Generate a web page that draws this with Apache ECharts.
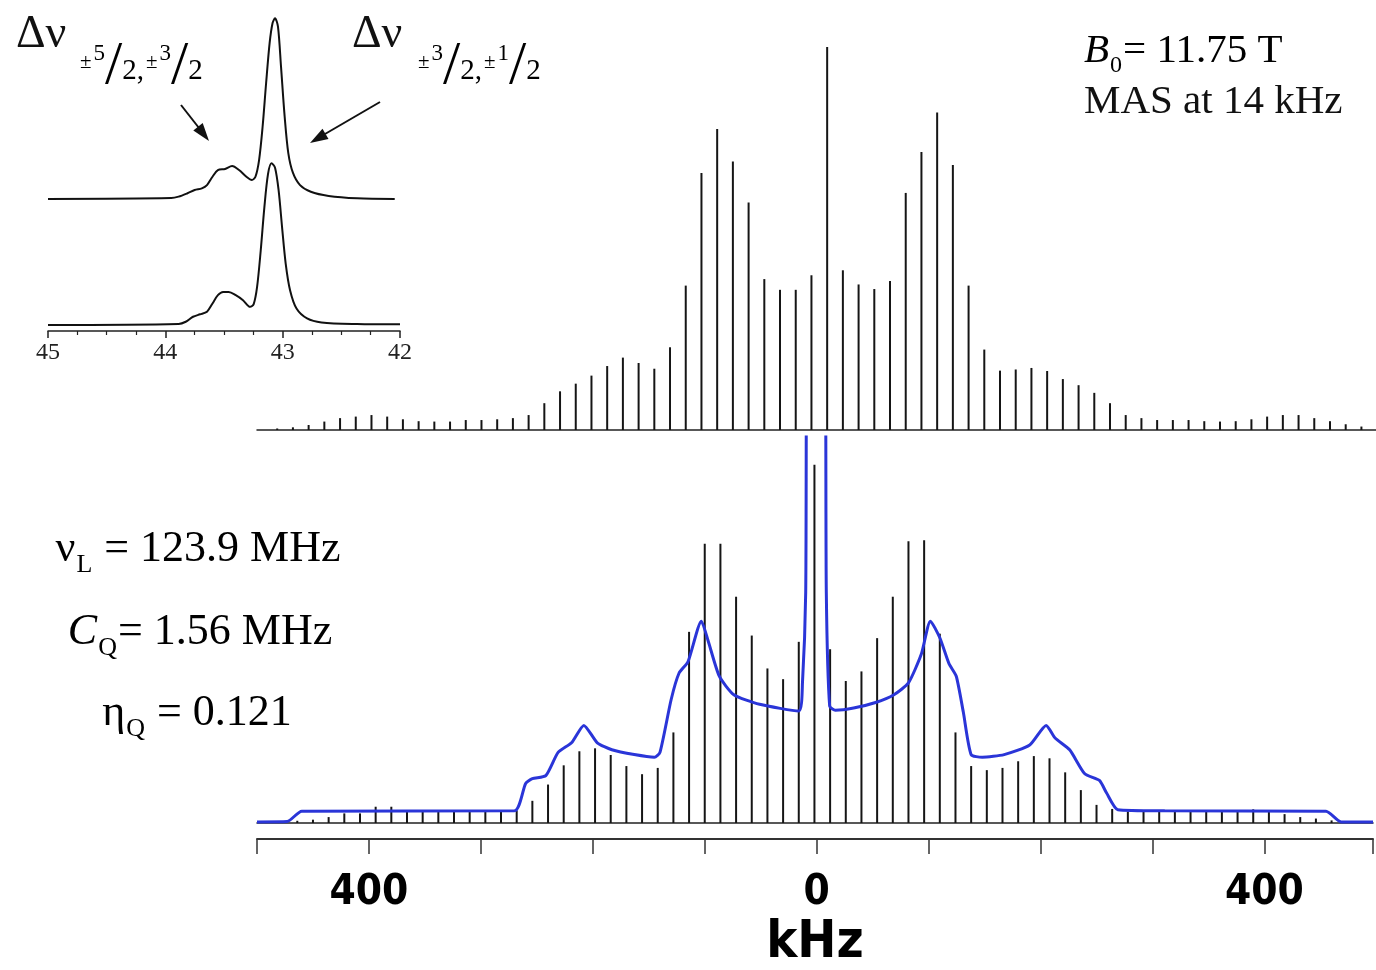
<!DOCTYPE html>
<html>
<head>
<meta charset="utf-8">
<title>MAS NMR spectrum</title>
<script src="https://cdn.jsdelivr.net/npm/echarts@6/dist/echarts.min.js"></script>
<style>
  html, body { margin: 0; padding: 0; background: #fff; }
  #main { width: 1376px; height: 970px; }
</style>
</head>
<body>
<div id="main"></div>
<script>
// spinning sidebands, MAS at 14 kHz
const spinRate = 14
const sidebandOrder = [
  -35, -34, -33, -32, -31, -30, -29, -28, -27, -26, -25, -24, -23, -22, -21, -20, -19, -18,
  -17, -16, -15, -14, -13, -12, -11, -10, -9, -8, -7, -6, -5, -4, -3, -2, -1,
  0,
  1, 2, 3, 4, 5, 6, 7, 8, 9, 10, 11, 12, 13, 14, 15, 16, 17, 18, 19, 20, 21, 22, 23, 24, 25,
  26, 27, 28, 29, 30, 31, 32, 33, 34, 35
]
const expCenter = 8   // kHz, centreband of the measured spectrum
const simCenter = -2  // kHz, centreband of the simulation

// measured spectrum (top), relative intensity
const expIntensity = [
  0.4, 0.7, 1.3, 2.2, 3.1, 3.5, 3.9, 3.5, 2.8, 2.3, 2.2, 2.2, 2.6, 2.6, 2.8, 3.1, 3.9, 7.0,
  10.1, 12.1, 14.2, 16.7, 18.9, 17.5, 16.0, 21.6, 37.7, 67.1, 78.6, 70.1, 59.4, 39.4, 36.6, 36.6, 40.4,
  100,
  41.7, 38.0, 36.8, 38.9, 61.9, 72.6, 82.9, 69.2, 37.7, 21.0, 15.5, 15.8, 16.2, 15.4, 13.3, 11.7, 9.7,
  7.0, 3.9, 3.1, 2.6, 2.6, 2.6, 2.3, 2.2, 2.3, 2.8, 3.5, 3.9, 3.9, 3.1, 2.3, 1.5, 0.9, 0.4
]
// simulated sidebands (bottom)
const simIntensity = [
  0.2, 0.4, 0.6, 0.9, 1.6, 2.6, 2.6, 4.4, 4.4, 3.1, 3.1, 3.0, 3.0, 3.0, 3.0, 3.0, 3.4, 6.0,
  10.4, 15.6, 19.4, 20.2, 18.4, 15.4, 13.2, 14.9, 24.5, 51.7, 75.5, 75.5, 61.2, 50.7, 41.8, 38.9, 49.0,
  96.9,
  47.0, 38.4, 41.0, 50.0, 61.2, 76.2, 76.5, 51.2, 24.5, 15.4, 14.3, 14.9, 16.7, 18.1, 17.5, 13.7, 8.9,
  4.9, 3.8, 3.1, 3.1, 3.1, 3.1, 3.1, 3.1, 3.1, 3.3, 3.7, 3.5, 2.4, 1.6, 1.2, 0.7, 0.4, 0.2
]
// static line shape (blue), goes off scale at the centre
const fitFreq = [
  -500, -473, -460, -270, -260, -254, -242, -231, -219, -208, -196, -183, -163, -145, -140,
  -130, -123, -115, -103, -97, -87, -74, -51, -16, -12.7, -9.8, -8, 7, 8.6, 11.6, 16.7, 33,
  52.6, 69, 82, 93.5, 101.6, 110, 118.2, 124.7, 131, 138, 148, 167.5, 190.3, 205, 213, 226,
  239.5, 252.6, 259, 269, 311, 455, 468.5, 497
]
const fitIntensity = [
  0.3, 0.4, 3.2, 3.3, 10.7, 12.0, 12.8, 19.1, 21.7, 26.4, 21.7, 19.8, 18.5, 17.8, 19.1,
  33.4, 40.5, 43.6, 54.6, 49.3, 39.7, 34.7, 32.1, 30.3, 37.9, 62.4, 140, 140, 62.4, 31.6, 30.5, 31.1,
  32.6, 34.7, 37.9, 45.7, 54.6, 50.1, 43.1, 39.7, 30.0, 18.5, 17.8, 18.5, 21.1, 26.4, 23.0, 19.8,
  13.3, 11.5, 8.1, 3.6, 3.3, 3.2, 0.3, 0.3
]

// inset: centreband region, measured (top) and simulated (bottom)
const insetFreqTop = [
  45.0, 43.95, 43.887, 43.811, 43.75, 43.689, 43.645, 43.598, 43.552, 43.491, 43.431, 43.372,
  43.309, 43.263, 43.232, 43.201, 43.171, 43.141, 43.111, 43.086, 43.065, 43.04, 43.014, 42.983,
  42.952, 42.912, 42.852, 42.76, 42.608, 42.366, 42.045
]
const insetTop = [
  0, 0.5, 1.3, 3.2, 5.0, 5.9, 7.7, 12.3, 16.0, 16.6, 18.2, 16.0,
  12.3, 10.5, 12.3, 21.5, 39.9, 64.1, 86.2, 97.2, 99.8, 95.2, 73.1, 45.5,
  25.4, 14.4, 7.7, 4.0, 1.7, 0.4, 0
]
const insetFreqBottom = [
  45.0, 43.887, 43.826, 43.764, 43.704, 43.645, 43.598, 43.552, 43.508, 43.46, 43.4, 43.338,
  43.278, 43.247, 43.218, 43.187, 43.156, 43.125, 43.095, 43.065, 43.034, 43.005, 42.974,
  42.937, 42.882, 42.792, 42.669, 42.366, 42.0
]
const insetBottom = [
  0, 0.6, 2.0, 5.1, 6.6, 8.2, 13.3, 18.4, 20.4, 20.4, 18.4, 15.3,
  11.2, 12.9, 23.5, 46.0, 72.6, 93.1, 99.8, 97.1, 82.8, 60.3, 37.8,
  21.5, 10.2, 4.1, 1.6, 0.6, 0.4
]

const labelledTicks = [-400, 0, 400]

const serif = '"Liberation Serif", "Times New Roman", serif'
const boldSans = '"DejaVu Sans Condensed", "Liberation Sans Narrow", "DejaVu Sans", sans-serif'

function sticks(center, values) {
  return sidebandOrder.map((n, i) => [center + n * spinRate, values[i]])
}
function pairs(xs, ys) {
  return xs.map((x, i) => [x, ys[i]])
}
function stickItem(params, api) {
  const p0 = api.coord([api.value(0), 0])
  const p1 = api.coord([api.value(0), api.value(1)])
  return {
    type: 'line',
    shape: { x1: p0[0], y1: p0[1], x2: p1[0], y2: p1[1] },
    style: { stroke: '#151515', lineWidth: 2 }
  }
}

// rich styles for the slashed fractions like ±5/2
const fracRich = {
  pm: { fontFamily: serif, fontSize: 21, lineHeight: 21, padding: [16, 0, 0, 0], verticalAlign: 'top', color: '#111' },
  num: { fontFamily: serif, fontSize: 23, lineHeight: 23, padding: [6, 0, 0, 2], verticalAlign: 'top', color: '#111' },
  sl: { fontFamily: serif, fontSize: 62, lineHeight: 50, verticalAlign: 'top', color: '#333' },
  den: { fontFamily: serif, fontSize: 29, lineHeight: 29, verticalAlign: 'bottom', color: '#111' },
  cm: { fontFamily: serif, fontSize: 29, lineHeight: 29, padding: [0, 2, 0, 0], verticalAlign: 'bottom', color: '#111' }
}
// rich styles for symbol + subscript
function subRich(size, subSize, drop) {
  return {
    m: { fontFamily: serif, fontSize: size, lineHeight: size + 4, verticalAlign: 'top', color: '#111' },
    i: { fontFamily: serif, fontStyle: 'italic', fontSize: size, lineHeight: size + 4, verticalAlign: 'top', color: '#111' },
    s: { fontFamily: serif, fontSize: subSize, lineHeight: subSize, padding: [drop, 1, 0, 1], verticalAlign: 'top', color: '#111' }
  }
}

const chart = echarts.init(document.getElementById('main'))

chart.setOption({
  animation: false,
  backgroundColor: '#fff',
  grid: [
    { left: 257, right: 0, top: 47, height: 383 },
    { left: 257, right: 0, top: 437, height: 400 },
    { left: 48, width: 352, top: 18, height: 181 },
    { left: 48, width: 352, top: 163, height: 162 }
  ],
  xAxis: [
    {
      gridIndex: 0, type: 'value', min: -500, max: 497,
      axisLine: { lineStyle: { color: '#222', width: 1.5 } },
      axisTick: { show: false }, axisLabel: { show: false }, splitLine: { show: false }
    },
    {
      gridIndex: 1, type: 'value', min: -500, max: 497,
      axisLine: { lineStyle: { color: '#222', width: 1.5 } },
      axisTick: { show: false }, axisLabel: { show: false }, splitLine: { show: false }
    },
    {
      gridIndex: 1, type: 'value', min: -500, max: 497, interval: 100,
      position: 'bottom', offset: 16,
      axisLine: { onZero: false, lineStyle: { color: '#333', width: 2 } },
      axisTick: { length: 15, lineStyle: { color: '#333', width: 1.5 } },
      axisLabel: {
        margin: 33,
        fontFamily: boldSans, fontWeight: 'bold', fontSize: 42, color: '#000',
        formatter: v => labelledTicks.includes(v) ? String(Math.abs(v)) : ''
      },
      splitLine: { show: false },
      name: 'kHz', nameLocation: 'middle', nameGap: 78,
      nameTextStyle: { fontFamily: boldSans, fontWeight: 'bold', fontSize: 52, color: '#000' }
    },
    {
      gridIndex: 2, type: 'value', min: 42, max: 45, inverse: true, show: false
    },
    {
      gridIndex: 3, type: 'value', min: 42, max: 45, interval: 1, inverse: true,
      offset: 6,
      axisLine: { onZero: false, lineStyle: { color: '#222', width: 1.5 } },
      axisTick: { length: 7, lineStyle: { color: '#222', width: 1.5 } },
      minorTick: { show: true, splitNumber: 4, length: 4, lineStyle: { color: '#222', width: 1.2 } },
      axisLabel: { margin: 10, fontFamily: serif, fontSize: 24, color: '#222' },
      splitLine: { show: false }
    }
  ],
  yAxis: [
    { gridIndex: 0, type: 'value', min: 0, max: 100, show: false },
    { gridIndex: 1, type: 'value', min: 0, max: 104.4, show: false },
    { gridIndex: 2, type: 'value', min: 0, max: 100, show: false },
    { gridIndex: 3, type: 'value', min: 0, max: 100, show: false }
  ],
  series: [
    {
      name: 'experiment', type: 'custom', xAxisIndex: 0, yAxisIndex: 0,
      encode: { x: 0, y: 1 },
      renderItem: stickItem,
      data: sticks(expCenter, expIntensity)
    },
    {
      name: 'simulation', type: 'custom', xAxisIndex: 1, yAxisIndex: 1,
      encode: { x: 0, y: 1 },
      renderItem: stickItem,
      data: sticks(simCenter, simIntensity)
    },
    {
      name: 'static', type: 'line', xAxisIndex: 1, yAxisIndex: 1,
      showSymbol: false, smooth: 0.2, clip: true,
      lineStyle: { color: '#2a35d8', width: 3 },
      data: pairs(fitFreq, fitIntensity),
      z: 5
    },
    {
      name: 'inset experiment', type: 'line', xAxisIndex: 3, yAxisIndex: 2,
      showSymbol: false, smooth: 0.3,
      lineStyle: { color: '#111', width: 2 },
      data: pairs(insetFreqTop, insetTop)
    },
    {
      name: 'inset simulation', type: 'line', xAxisIndex: 4, yAxisIndex: 3,
      showSymbol: false, smooth: 0.3,
      lineStyle: { color: '#111', width: 2 },
      data: pairs(insetFreqBottom, insetBottom)
    }
  ],
  graphic: [
    // transition labels
    { type: 'text', x: 16, y: 12, style: { text: 'Δν', font: '46px ' + serif, fill: '#111' } },
    {
      type: 'text', x: 80, y: 36,
      style: { text: '{pm|±}{num|5}{sl|/}{den|2}{cm|,}{pm|±}{num|3}{sl|/}{den|2}', rich: fracRich }
    },
    { type: 'text', x: 352, y: 12, style: { text: 'Δν', font: '46px ' + serif, fill: '#111' } },
    {
      type: 'text', x: 418, y: 36,
      style: { text: '{pm|±}{num|3}{sl|/}{den|2}{cm|,}{pm|±}{num|1}{sl|/}{den|2}', rich: fracRich }
    },
    // arrows
    { type: 'line', shape: { x1: 181, y1: 105, x2: 199, y2: 128 }, style: { stroke: '#111', lineWidth: 2 } },
    { type: 'polygon', shape: { points: [[209, 141], [193.3, 130.5], [202.7, 123.1]] }, style: { fill: '#111' } },
    { type: 'line', shape: { x1: 380, y1: 102, x2: 325, y2: 134 }, style: { stroke: '#111', lineWidth: 2 } },
    { type: 'polygon', shape: { points: [[310, 143], [322.5, 128.7], [328.5, 139.1]] }, style: { fill: '#111' } },
    // acquisition parameters
    {
      type: 'text', x: 1084, y: 31,
      style: { text: '{i|B}{s|0}{m|= 11.75 T}', rich: subRich(41, 24, 23) }
    },
    { type: 'text', x: 1084, y: 82, style: { text: 'MAS at 14 kHz', font: '41px ' + serif, fill: '#111' } },
    // fit parameters
    {
      type: 'text', x: 198, y: 527,
      style: { text: '{m|ν}{s|L}{m| = 123.9 MHz}', rich: subRich(44, 26, 25), align: 'center' }
    },
    {
      type: 'text', x: 200, y: 610,
      style: { text: '{i|C}{s|Q}{m|= 1.56 MHz}', rich: subRich(44, 26, 25), align: 'center' }
    },
    {
      type: 'text', x: 197, y: 691,
      style: { text: '{m|η}{s|Q}{m| = 0.121}', rich: subRich(44, 26, 25), align: 'center' }
    }
  ]
})
</script>
</body>
</html>
